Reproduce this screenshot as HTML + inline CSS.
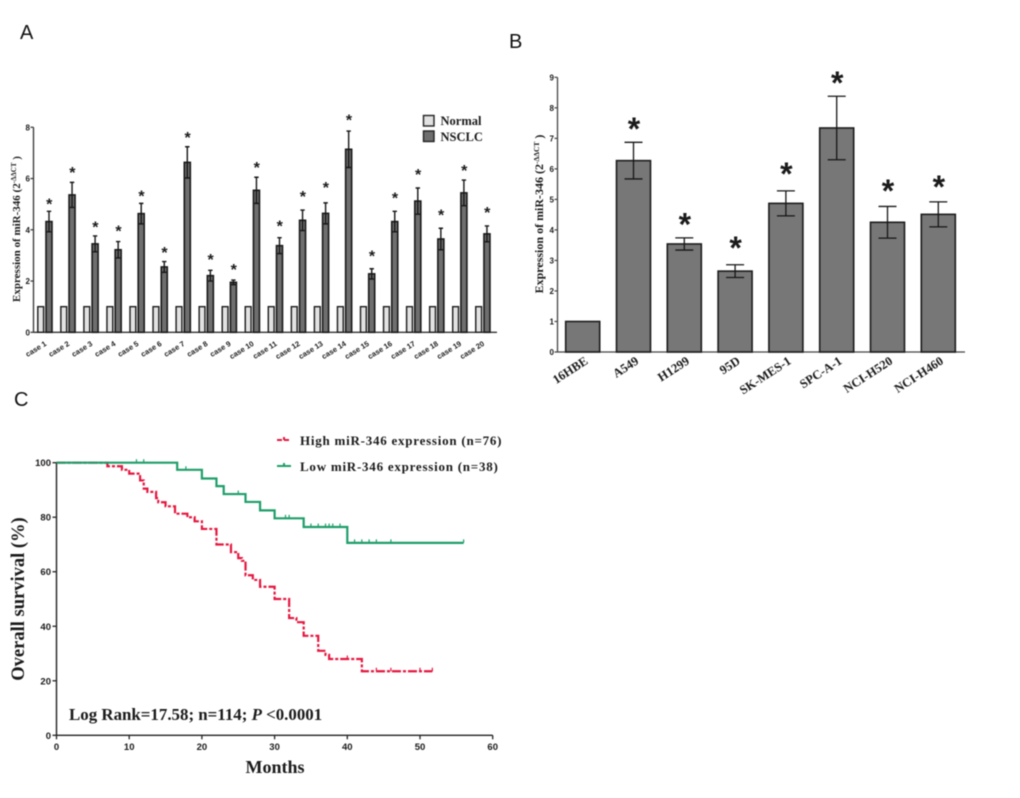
<!DOCTYPE html>
<html lang="en">
<head>
<meta charset="utf-8">
<title>miR-346 expression and survival</title>
<style>
html,body{margin:0;padding:0;background:#fff;}
svg{display:block;filter:blur(0.5px);}
.letter{font-family:"Liberation Sans",sans-serif;font-size:20px;fill:#111;}
.serif{font-family:"Liberation Serif",serif;font-weight:bold;fill:#1a1a1a;}
.sans{font-family:"Liberation Sans",sans-serif;font-weight:bold;fill:#1a1a1a;}
</style>
</head>
<body>
<svg id="fig" xmlns="http://www.w3.org/2000/svg" width="1020" height="798" viewBox="0 0 1020 798">
  <rect x="0" y="0" width="1020" height="798" fill="#fff"/>
  <text class="letter" x="20" y="39">A</text>
  <text class="letter" x="509" y="48">B</text>
  <text class="letter" x="14" y="406">C</text>

  <g id="panelA"></g>
  <text class="serif" font-size="11" text-anchor="middle" transform="translate(20,229) rotate(-90)">Expression of miR-346 (2<tspan font-size="7" dy="-4">-ΔΔCT</tspan><tspan dy="4"> )</tspan></text>
  <rect x="423.5" y="115.5" width="10.5" height="10.5" fill="#e2e2e2" stroke="#222" stroke-width="1.4"/>
  <rect x="423.5" y="131" width="10.5" height="10.5" fill="#6f6f6f" stroke="#222" stroke-width="1.4"/>
  <text class="serif" font-size="12.5" x="440.5" y="125">Normal</text>
  <text class="serif" font-size="12.5" x="440.5" y="141">NSCLC</text>

  <g id="panelB"></g>
  <text class="serif" font-size="12" text-anchor="middle" transform="translate(543,214) rotate(-90)">Expression of miR-346 (2<tspan font-size="7.5" dy="-4">-ΔΔCT</tspan><tspan dy="4"> )</tspan></text>

  <g id="panelC"></g>
  <text class="serif" font-size="18.5" text-anchor="middle" transform="translate(24,599) rotate(-90)">Overall survival (%)</text>
  <text class="serif" font-size="18" text-anchor="middle" x="275" y="773">Months</text>
  <text class="serif" font-size="16.9" x="69" y="720">Log Rank=17.58; n=114; <tspan font-style="italic">P</tspan> &lt;0.0001</text>
  <path d="M277 440H291M284 440V437" stroke="#e4173f" stroke-width="2" stroke-dasharray="5 2" fill="none"/>
  <path d="M277 466H291M284 466V463" stroke="#1f9e6a" stroke-width="2" fill="none"/>
  <text class="serif" font-size="13" letter-spacing="0.76" x="300" y="445">High miR-346 expression (n=76)</text>
  <text class="serif" font-size="13" letter-spacing="0.76" x="300" y="471">Low miR-346 expression (n=38)</text>
</svg>
<script>
// Panel A data
const caseLabels = ["case 1","case 2","case 3","case 4","case 5","case 6","case 7","case 8","case 9","case 10","case 11","case 12","case 13","case 14","case 15","case 16","case 17","case 18","case 19","case 20"];
const normalValues = [1,1,1,1,1,1,1,1,1,1,1,1,1,1,1,1,1,1,1,1];
const nsclcValues = [4.32,5.36,3.45,3.22,4.63,2.55,6.63,2.21,1.95,5.54,3.38,4.37,4.64,7.14,2.28,4.32,5.12,3.64,5.44,3.84];
const nsclcErrors = [0.40,0.49,0.31,0.32,0.40,0.21,0.61,0.21,0.09,0.51,0.31,0.40,0.41,0.71,0.20,0.40,0.51,0.42,0.50,0.31];
const nsclcStarLevels = [5.07,6.29,4.17,4.02,5.38,3.17,7.66,2.89,2.50,6.49,4.21,5.36,5.70,8.35,3.03,5.29,6.22,4.63,6.37,4.73];
const panelATicks = [0,2,4,6,8];

// Panel B data
const cellLines = ["16HBE","A549","H1299","95D","SK-MES-1","SPC-A-1","NCI-H520","NCI-H460"];
const cellValues = [1,6.27,3.54,2.65,4.87,7.34,4.25,4.51];
const cellErrors = [0,0.60,0.20,0.21,0.41,1.04,0.52,0.41];
const cellStarLevels = [null,7.41,4.27,3.50,5.93,8.92,5.37,5.51];
const panelBTicks = [0,1,2,3,4,5,6,7,8,9];

// Panel C data (months, survival %)
const highTimes = [0,7,9,10,11.5,12,12.5,13.7,14,15,16.3,18,19,20,22,24,25,25.5,26,27,28,30,32,33,34,36,37,37.5,42,51.7];
const highSurvival = [100,98.7,97.4,96,93.5,90.5,89.3,87,85.5,84,81.3,80,78.5,75.7,70,67.2,65,64,58.7,57,54.5,50,43,41.5,36.5,31,29.5,28,23.5,23.5];
const lowTimes = [0,16.6,20,22,23,26,28,30,34,40,56];
const lowSurvival = [100,97.4,94.2,91.4,88.5,85.6,82.5,79.6,76.4,70.6,70.6];
const highCensorTimes = [18,40,44,46,50,51.7];
const lowCensorTimes = [11,12,17.8,25,31.5,32,35,36,37,37.5,38,39,41,42,43,44,46,56];
const panelCYTicks = [0,20,40,60,80,100];
const panelCXTicks = [0,10,20,30,40,50,60];

const NS = "http://www.w3.org/2000/svg";
function make(parent, tag, props, text) {
  const e = document.createElementNS(NS, tag);
  for (const k in props) e.setAttribute(k, props[k]);
  if (text !== undefined) e.textContent = text;
  parent.appendChild(e);
  return e;
}
function line(parent, x1, y1, x2, y2, color, w) {
  return make(parent, "line", {x1:x1, y1:y1, x2:x2, y2:y2, stroke:color, "stroke-width":w});
}

// ---------- Panel A ----------
const gA = document.getElementById("panelA");
const axA = {x0:33.5, y0:332.3, yUnit:25.63, right:497};
function yA(v){ return axA.y0 - v * axA.yUnit; }
function xA(i){ return 49 + i * 23.05; }
const aYAxis = line(gA, axA.x0, yA(8), axA.x0, axA.y0, "#333", 1.3);


const aXAxis = line(gA, axA.x0, axA.y0, axA.right, axA.y0, "#333", 1.3);


panelATicks.forEach(function(t){
  const tick = line(gA, axA.x0 - 3, yA(t), axA.x0, yA(t), "#333", 1.2);
  
  
  const lab = make(gA, "text", {class:"sans", "font-size":8, "text-anchor":"end", x:axA.x0 - 3.5, y:yA(t) + 3}, String(t));
  
  
});
caseLabels.forEach(function(name, i){
  const cx = xA(i);
  const nb = make(gA, "rect", {x:cx - 11.2, y:yA(normalValues[i]), width:5.8, height:axA.y0 - yA(normalValues[i]), fill:"#e2e2e2", stroke:"#1a1a1a", "stroke-width":1.4});
  
  
  const tb = make(gA, "rect", {x:cx - 3, y:yA(nsclcValues[i]), width:6, height:axA.y0 - yA(nsclcValues[i]), fill:"#6f6f6f", stroke:"#1a1a1a", "stroke-width":1.6});
  
  
  const hi = yA(nsclcValues[i] + nsclcErrors[i]), lo = yA(nsclcValues[i] - nsclcErrors[i]);
  const eb = make(gA, "path", {d:"M"+(cx-2.2)+" "+hi+"H"+(cx+2.2)+"M"+cx+" "+hi+"V"+lo+"M"+(cx-2.2)+" "+lo+"H"+(cx+2.2), stroke:"#161616", "stroke-width":1.4, fill:"none"});
  
  
  const st = make(gA, "text", {class:"sans", "font-size":16, "text-anchor":"middle", x:cx + 0.3, y:yA(nsclcStarLevels[i]) + 7}, "*");
  
  
  const lb = make(gA, "text", {class:"sans", "font-size":7.5, "text-anchor":"end", transform:"translate("+(cx - 2)+",345) rotate(-32)"}, name);
  
  
});

// ---------- Panel B ----------
const gB = document.getElementById("panelB");
const axB = {x0:557.5, y0:352, yUnit:30.52, right:965};
function yB(v){ return axB.y0 - v * axB.yUnit; }
function xB(i){ return 582.7 + i * 50.8; }
const bYAxis = line(gB, axB.x0, yB(9), axB.x0, axB.y0, "#444", 1.3);


const bXAxis = line(gB, axB.x0, axB.y0, axB.right, axB.y0, "#444", 1.3);


panelBTicks.forEach(function(t){
  const tick = line(gB, axB.x0 - 3, yB(t), axB.x0, yB(t), "#444", 1.2);
  
  
  const lab = make(gB, "text", {class:"sans", "font-size":8, "text-anchor":"end", x:axB.x0 - 3.5, y:yB(t) + 3}, String(t));
  
  
});
cellLines.forEach(function(name, i){
  const cx = xB(i);
  const b = make(gB, "rect", {x:cx - 17, y:yB(cellValues[i]), width:34, height:axB.y0 - yB(cellValues[i]), fill:"#777", stroke:"#1c1c1c", "stroke-width":1.6});
  
  
  if (cellErrors[i] > 0) {
    const hi = yB(cellValues[i] + cellErrors[i]), lo = yB(cellValues[i] - cellErrors[i]);
    const eb = make(gB, "path", {d:"M"+(cx-9)+" "+hi+"H"+(cx+9)+"M"+cx+" "+hi+"V"+lo+"M"+(cx-9)+" "+lo+"H"+(cx+9), stroke:"#161616", "stroke-width":1.3, fill:"none"});
    
    
  }
  if (cellStarLevels[i] !== null) {
    const st = make(gB, "text", {class:"sans", "font-size":32, "text-anchor":"middle", x:cx + 0.5, y:yB(cellStarLevels[i]) + 14}, "*");
    
    
  }
  const lb = make(gB, "text", {class:"serif", "font-size":12.5, "text-anchor":"end", transform:"translate("+(cx + 6)+",363) rotate(-33)"}, name);
  
  
});

// ---------- Panel C ----------
const gC = document.getElementById("panelC");
const axC = {x0:56.5, y0:735.3, yUnit:2.726, xUnit:7.27};
function yC(v){ return axC.y0 - v * axC.yUnit; }
function xC(m){ return axC.x0 + m * axC.xUnit; }
function stepPath(times, surv){
  let d = "M" + xC(times[0]) + " " + yC(surv[0]);
  for (let i = 1; i < times.length; i++) {
    d += "H" + xC(times[i]) + "V" + yC(surv[i]);
  }
  return d;
}
function survivalAt(times, surv, m){
  let s = surv[0];
  for (let i = 0; i < times.length; i++) { if (times[i] <= m) s = surv[i]; }
  return s;
}
const cYAxis = line(gC, axC.x0, yC(100), axC.x0, axC.y0, "#222", 1.4);


const cXAxis = line(gC, axC.x0, axC.y0, xC(60), axC.y0, "#222", 1.4);


panelCYTicks.forEach(function(t){
  const tick = line(gC, axC.x0 - 4, yC(t), axC.x0, yC(t), "#222", 1.3);
  
  
  const lab = make(gC, "text", {class:"sans", "font-size":9.5, "text-anchor":"end", x:axC.x0 - 5.5, y:yC(t) + 3.5}, String(t));
  
  
});
panelCXTicks.forEach(function(t){
  const tick = line(gC, xC(t), axC.y0, xC(t), axC.y0 + 4, "#222", 1.3);
  
  
  const lab = make(gC, "text", {class:"sans", "font-size":9.5, "text-anchor":"middle", x:xC(t), y:axC.y0 + 14.5}, String(t));
  
  
});
const highLine = make(gC, "path", {d:stepPath(highTimes, highSurvival), fill:"none", stroke:"#e4173f", "stroke-width":2.2, "stroke-dasharray":"9 2 3 2"});


const lowLine = make(gC, "path", {d:stepPath(lowTimes, lowSurvival), fill:"none", stroke:"#1f9e6a", "stroke-width":2.2});


lowCensorTimes.forEach(function(m){
  const y = yC(survivalAt(lowTimes, lowSurvival, m));
  const c = line(gC, xC(m), y - 3.5, xC(m), y, "#1f9e6a", 1.2);
  
  
});
highCensorTimes.forEach(function(m){
  const y = yC(survivalAt(highTimes, highSurvival, m));
  const c = line(gC, xC(m), y - 3.5, xC(m), y, "#e4173f", 1.2);
  
  
});
</script>
</body>
</html>
